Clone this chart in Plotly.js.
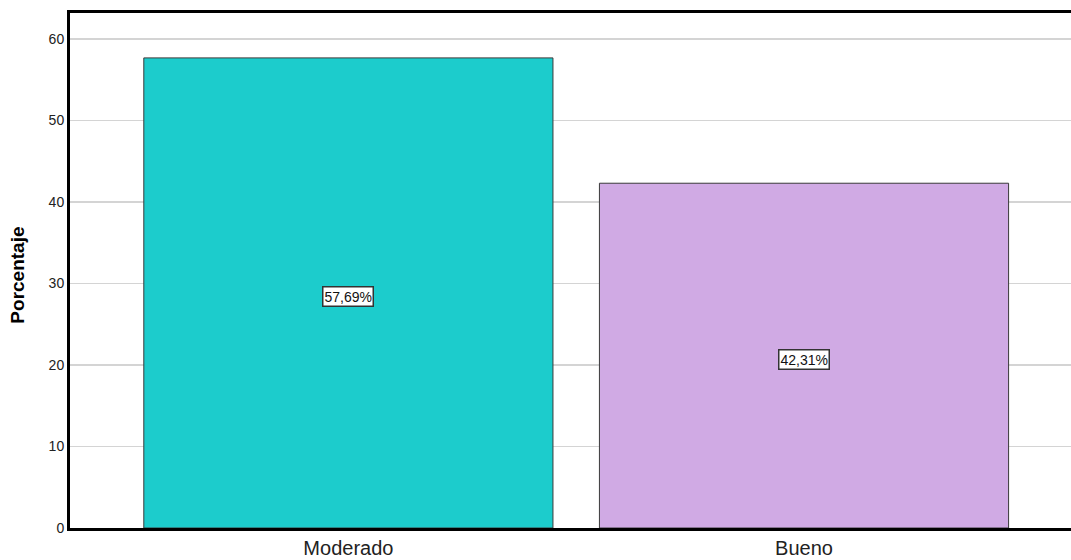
<!DOCTYPE html>
<html>
<head>
<meta charset="utf-8">
<script src="https://cdn.plot.ly/plotly-3.0.1.min.js"></script>
<style>html,body{margin:0;padding:0;overflow:hidden;background:#fff;}#chart{width:1071px;height:560px;}</style>
</head>
<body>
<div id="chart"></div>
<script>
const categories = ["Moderado", "Bueno"];
const values = [57.69, 42.31];
const labels = ["57,69%", "42,31%"];
const barColors = ["#1ccccc", "#d0aae4"];
const yTicks = [0, 10, 20, 30, 40, 50, 60];
const yTitle = "Porcentaje";

const trace = {
  type: "bar",
  x: [0, 1],
  y: values,
  width: 0.898,
  marker: { color: barColors, line: { color: "#3a3a3a", width: 1 } },
  hoverinfo: "skip"
};

const annotations = values.map((v, i) => ({
  x: i, y: v / 2, xref: "x", yref: "y", yshift: -4,
  text: labels[i], showarrow: false,
  bgcolor: "#ffffff", bordercolor: "#333333", borderwidth: 1.5, borderpad: 1,
  font: { family: "Liberation Sans, Arial, sans-serif", size: 14, color: "#111" }
}));
annotations.push({
  xref: "paper", yref: "paper", x: 0, y: 0.49, xshift: -52,
  xanchor: "center", yanchor: "middle",
  textangle: -90, showarrow: false,
  text: "<b>" + yTitle + "</b>",
  font: { family: "Liberation Sans, Arial, sans-serif", size: 19, color: "#000" }
});

const layout = {
  width: 1071, height: 560,
  margin: { l: 70, r: 0, t: 13, b: 32, pad: 0 },
  paper_bgcolor: "#fff", plot_bgcolor: "#fff",
  showlegend: false,
  font: { family: "Liberation Sans, Arial, sans-serif", color: "#222" },
  xaxis: {
    range: [-0.611, 1.586],
    tickvals: [0, 1], ticktext: categories,
    tickfont: { size: 20, color: "#222" },
    ticklabelstandoff: 0,
    showline: true, linecolor: "#000", linewidth: 3, mirror: true,
    showgrid: false, zeroline: false, ticks: "", ticklen: 0,
    fixedrange: true
  },
  yaxis: {
    range: [0, 63.2],
    tickvals: yTicks,
    tickfont: { size: 14, color: "#222" },
    showline: true, linecolor: "#000", linewidth: 3, mirror: false,
    showgrid: true, gridcolor: "#d4d4d4", gridwidth: 1.5,
    zeroline: false, ticks: "", ticklen: 0,
    fixedrange: true
  },
  annotations: annotations
};

Plotly.newPlot("chart", [trace], layout, { displayModeBar: false, staticPlot: true });
</script>
</body>
</html>
